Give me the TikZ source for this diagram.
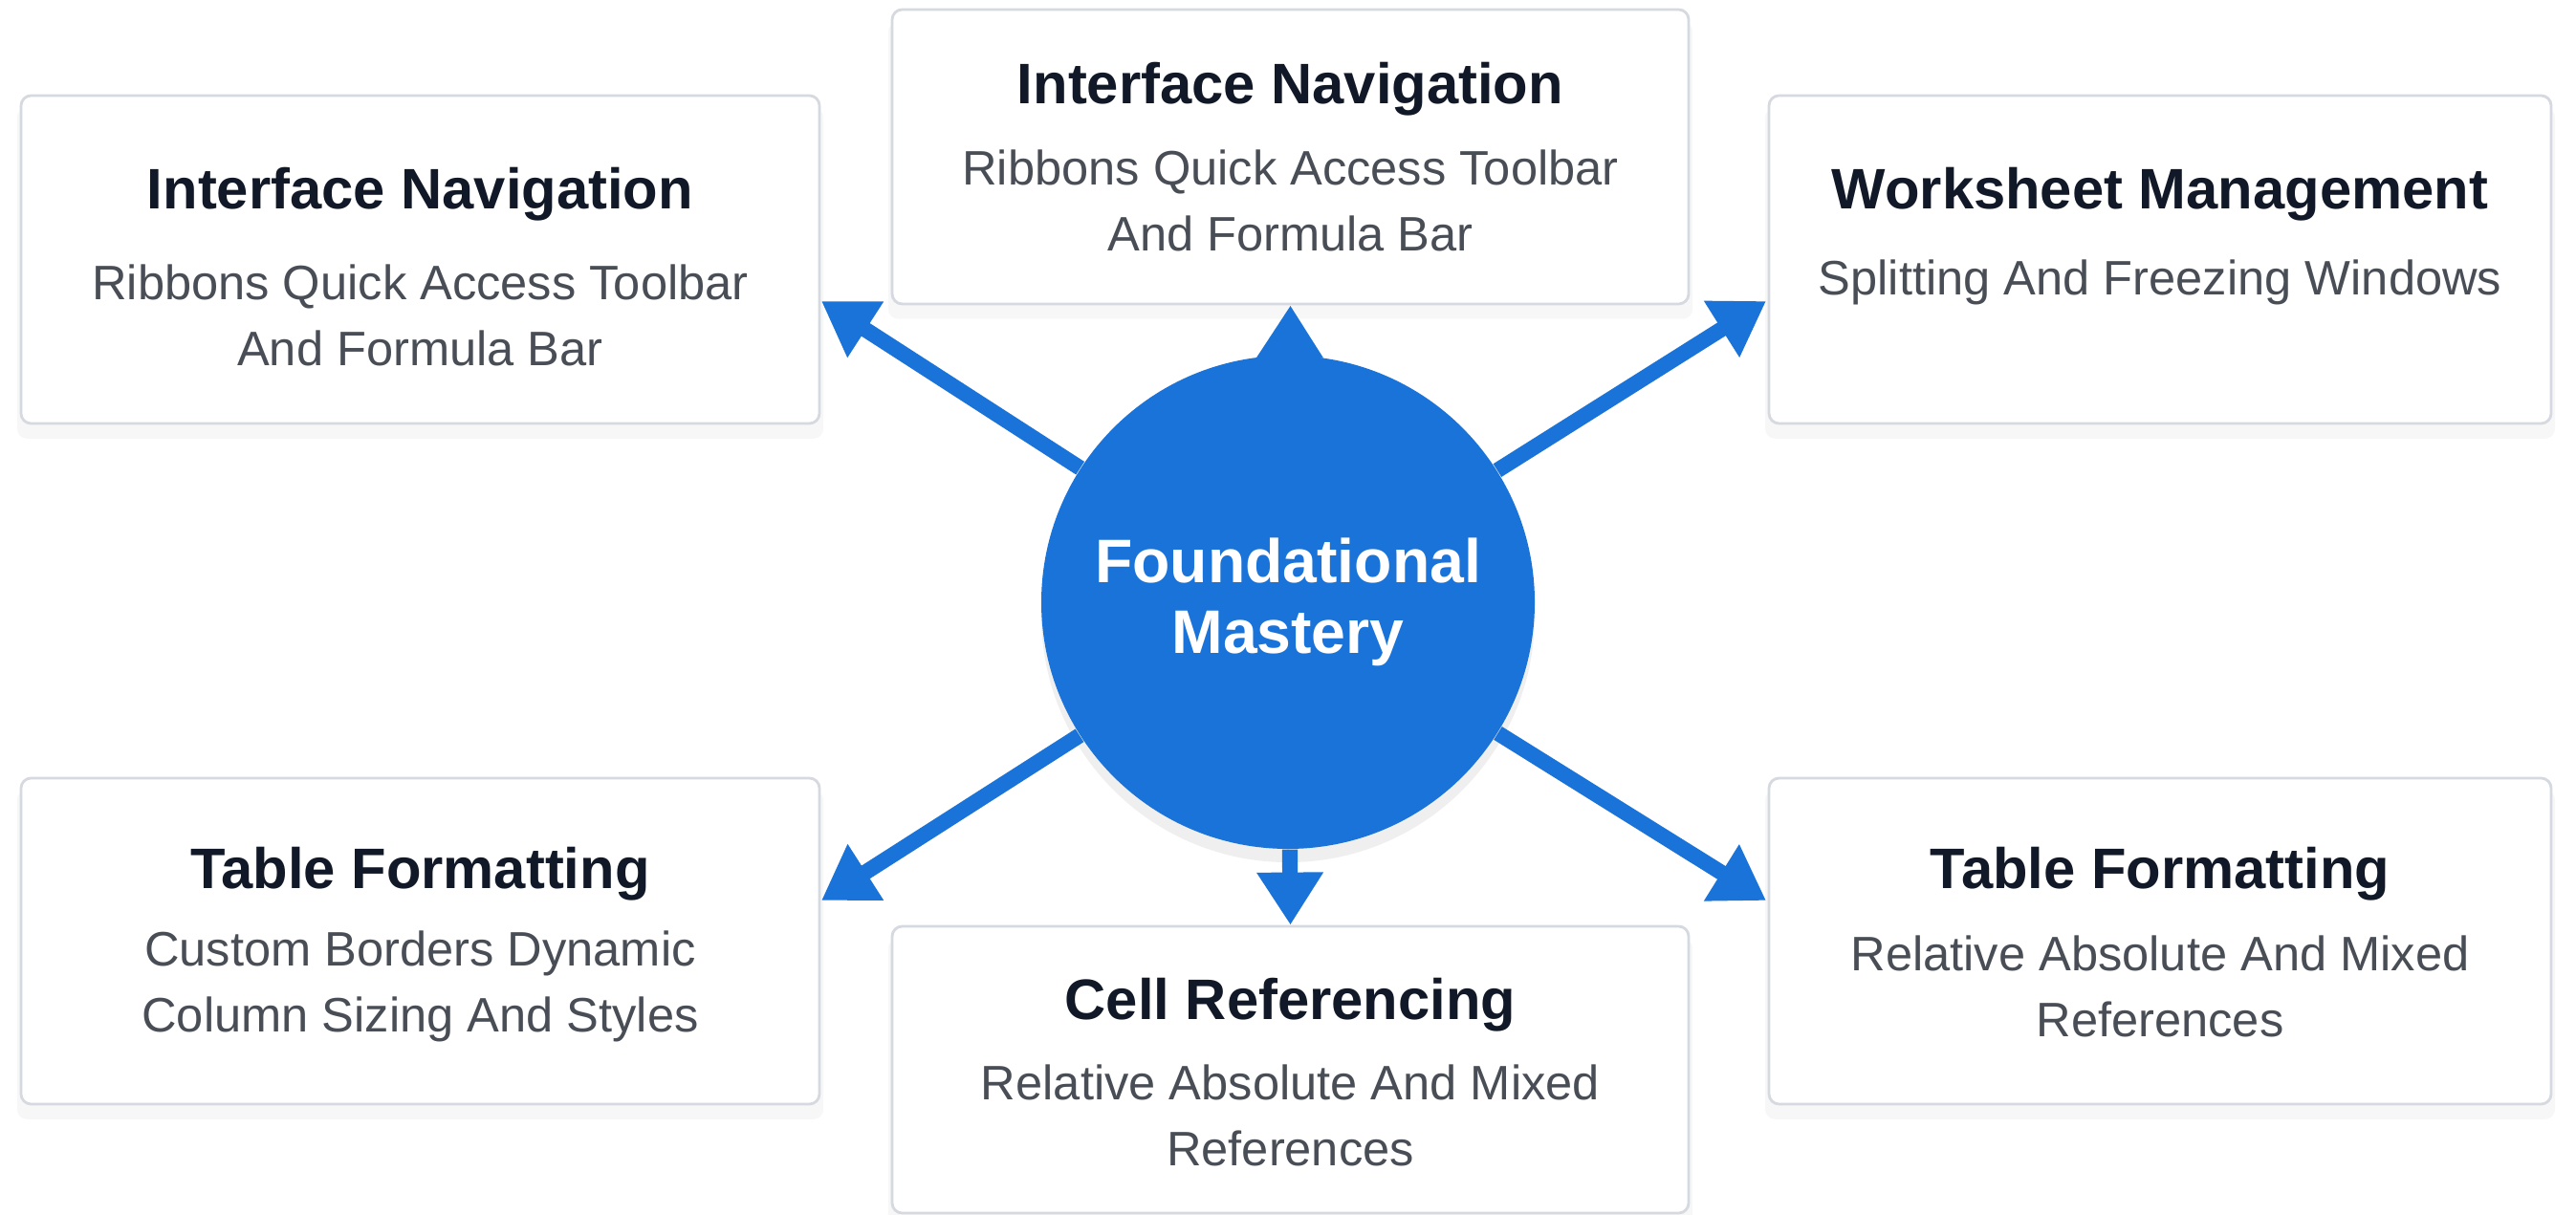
\documentclass[tikz,border=0pt]{standalone}
\usepackage{fontspec}
\setmainfont{Liberation Sans}
\usetikzlibrary{arrows.meta,shadows,positioning}
\definecolor{coreblue}{RGB}{26,115,217}
\definecolor{inkdark}{RGB}{17,24,39}
\definecolor{inkgray}{RGB}{72,77,86}
\definecolor{cardline}{RGB}{214,218,224}
\tikzset{card/.style={draw=cardline,line width=0.8pt,fill=white,rounded corners=3pt,
    drop shadow={shadow xshift=0pt,shadow yshift=-4pt,shadow scale=1.01,opacity=0.06}}}
\tikzset{cardtitle/.style={font=\fontsize{17}{20}\selectfont\bfseries,text=inkdark}}
\tikzset{carddesc/.style={font=\fontsize{14.4}{19.6}\selectfont,text=inkgray,align=center}}
\tikzset{hub/.style={circle,fill=coreblue,text=white,align=center,minimum size=5.16cm,
    font=\fontsize{18.3}{21}\selectfont\bfseries,drop shadow={shadow xshift=0pt,shadow yshift=-4pt,opacity=0.12}}}
\tikzset{spoke/.style={-{Triangle[length=0.55cm,width=0.66cm]},coreblue,line width=4.6pt}}

\begin{document}
\begin{tikzpicture}
    \fill [white] (0,0) rectangle (26.94,-12.71);
    \useasboundingbox (0,0) rectangle (26.94,-12.71);
    % cards
    \node [card,minimum width=8.35cm,minimum height=3.43cm] (tl) at (4.395,-2.715) {};
    \node [card,minimum width=8.33cm,minimum height=3.08cm] (tc) at (13.495,-1.64) {};
    \node [card,minimum width=8.18cm,minimum height=3.43cm] (tr) at (22.59,-2.715) {};
    \node [card,minimum width=8.35cm,minimum height=3.41cm] (bl) at (4.395,-9.845) {};
    \node [card,minimum width=8.33cm,minimum height=3.0cm] (bc) at (13.495,-11.19) {};
    \node [card,minimum width=8.18cm,minimum height=3.41cm] (br) at (22.59,-9.845) {};
    % texts
    \node [cardtitle] (tlTitle) at (4.395,-2.03) {Interface Navigation};
    \node [carddesc] (tlDesc) at (4.395,-3.3) {Ribbons Quick Access Toolbar\\And Formula Bar};
    \node [cardtitle] (tcTitle) at (13.495,-0.93) {Interface Navigation};
    \node [carddesc] (tcDesc) at (13.495,-2.1) {Ribbons Quick Access Toolbar\\And Formula Bar};
    \node [cardtitle] (trTitle) at (22.59,-2.03) {Worksheet Management};
    \node [carddesc] (trDesc) at (22.59,-2.95) {Splitting And Freezing Windows};
    \node [cardtitle] (blTitle) at (4.395,-9.14) {Table Formatting};
    \node [carddesc] (blDesc) at (4.395,-10.32) {Custom Borders Dynamic\\Column Sizing And Styles};
    \node [cardtitle] (bcTitle) at (13.495,-10.51) {Cell Referencing};
    \node [carddesc] (bcDesc) at (13.495,-11.67) {Relative Absolute And Mixed\\References};
    \node [cardtitle] (brTitle) at (22.59,-9.14) {Table Formatting};
    \node [carddesc] (brDesc) at (22.59,-10.32) {Relative Absolute And Mixed\\References};
    % hub and spokes
    \node [hub] (core) at (13.47,-6.3) {Foundational\\Mastery};
    \coordinate (tlEnd) at (8.59,-3.15);
    \coordinate (trEnd) at (18.47,-3.15);
    \coordinate (blEnd) at (8.59,-9.42);
    \coordinate (brEnd) at (18.47,-9.42);
    \draw [spoke] (core) -- (tlEnd);
    \draw [spoke] (core) -- (trEnd);
    \draw [spoke] (core) -- (blEnd);
    \draw [spoke] (core) -- (brEnd);
    \draw [spoke] (core) -- (tc.south);
    \draw [spoke] (core) -- (bc.north);
\end{tikzpicture}
\end{document}
